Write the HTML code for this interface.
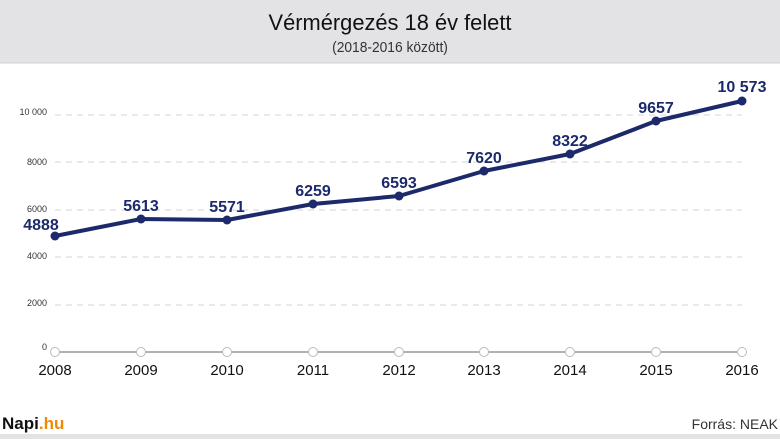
<!DOCTYPE html>
<html><head><meta charset="utf-8"><style>
body{margin:0;width:780px;height:439px;overflow:hidden;background:#fff;font-family:"Liberation Sans",sans-serif}
</style></head><body>
<svg width="780" height="439" viewBox="0 0 780 439" xmlns="http://www.w3.org/2000/svg" font-family="Liberation Sans, sans-serif">
<rect x="0" y="0" width="780" height="63" fill="#e3e3e5"/>
<line x1="0" y1="63" x2="780" y2="63" stroke="#d0d0d2" stroke-width="1"/>
<text x="390" y="30" text-anchor="middle" font-size="22" fill="#111" textLength="243" lengthAdjust="spacingAndGlyphs">Vérmérgezés 18 év felett</text>
<text x="390" y="52" text-anchor="middle" font-size="15" fill="#333" transform="translate(390 0) scale(0.92 1) translate(-390 0)">(2018-2016 között)</text>
<g stroke="#d4d4d4" stroke-width="1" stroke-dasharray="6,5">
<line x1="55" y1="115" x2="742" y2="115"/><line x1="55" y1="162" x2="742" y2="162"/>
<line x1="55" y1="210" x2="742" y2="210"/><line x1="55" y1="257" x2="742" y2="257"/>
<line x1="55" y1="305" x2="742" y2="305"/></g>
<line x1="55" y1="352" x2="742" y2="352" stroke="#999" stroke-width="1.5"/>
<g font-size="9" fill="#333" text-anchor="end">
<text x="47" y="115">10 000</text><text x="47" y="165">8000</text><text x="47" y="212">6000</text><text x="47" y="259">4000</text><text x="47" y="306">2000</text><text x="47" y="350">0</text></g>
<g fill="#fff" stroke="#bbb" stroke-width="1">
<circle cx="55" cy="352" r="4.5"/><circle cx="141" cy="352" r="4.5"/><circle cx="227" cy="352" r="4.5"/><circle cx="313" cy="352" r="4.5"/><circle cx="399" cy="352" r="4.5"/><circle cx="484" cy="352" r="4.5"/><circle cx="570" cy="352" r="4.5"/><circle cx="656" cy="352" r="4.5"/><circle cx="742" cy="352" r="4.5"/></g>
<g font-size="15" fill="#111" text-anchor="middle">
<text x="55" y="375">2008</text><text x="141" y="375">2009</text><text x="227" y="375">2010</text><text x="313" y="375">2011</text><text x="399" y="375">2012</text><text x="484" y="375">2013</text><text x="570" y="375">2014</text><text x="656" y="375">2015</text><text x="742" y="375">2016</text></g>
<polyline fill="none" stroke="#1c2a6b" stroke-width="4" stroke-linejoin="round" points="55,236 141,219 227,220 313,204 399,196 484,171 570,154 656,121 742,101"/>
<g fill="#1c2a6b">
<circle cx="55" cy="236" r="4.5"/><circle cx="141" cy="219" r="4.5"/><circle cx="227" cy="220" r="4.5"/><circle cx="313" cy="204" r="4.5"/><circle cx="399" cy="196" r="4.5"/><circle cx="484" cy="171" r="4.5"/><circle cx="570" cy="154" r="4.5"/><circle cx="656" cy="121" r="4.5"/><circle cx="742" cy="101" r="4.5"/></g>
<g font-size="16" font-weight="bold" fill="#1c2a6b" text-anchor="middle">
<text x="41" y="230">4888</text><text x="141" y="211">5613</text><text x="227" y="212">5571</text><text x="313" y="196">6259</text><text x="399" y="188">6593</text><text x="484" y="163">7620</text><text x="570" y="146">8322</text><text x="656" y="113">9657</text><text x="742" y="92">10 573</text></g>
<text x="2" y="429" font-size="17" font-weight="bold" fill="#111">Napi<tspan fill="#f08a00">.hu</tspan></text>
<text x="778" y="429" text-anchor="end" font-size="14" fill="#333">Forrás: NEAK</text>
<rect x="0" y="434" width="780" height="5" fill="#e3e3e5"/>
</svg>
</body></html>
